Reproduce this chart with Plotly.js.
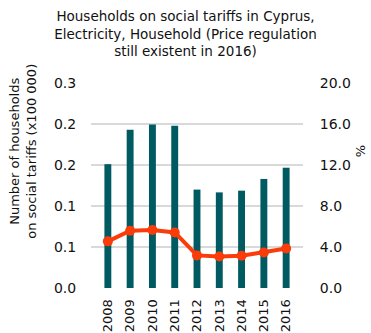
<!DOCTYPE html>
<html><head><meta charset="utf-8">
<script src="https://cdn.plot.ly/plotly-3.0.1.min.js"></script>
<style>html,body{margin:0;padding:0;background:#fff}#c{width:371px;height:333px}</style>
</head><body><div id="c"></div>
<script>
var years = ['2008','2009','2010','2011','2012','2013','2014','2015','2016'];
var households = [0.151, 0.193, 0.1995, 0.198, 0.120, 0.1166, 0.1187, 0.133, 0.1467];
var sharePct = [4.55, 5.59, 5.66, 5.42, 3.18, 3.08, 3.15, 3.47, 3.86];
var leftTicks = [0, 0.05, 0.10, 0.15, 0.20, 0.25];
var leftLabels = ['0.0','0.1','0.1','0.2','0.2','0.3'];
var rightTicks = [0, 4, 8, 12, 16, 20];
var rightLabels = ['0.0','4.0','8.0','12.0','16.0','20.0'];

var font = 'DejaVu Sans, sans-serif';
var data = [
  {type:'bar', x:years, y:households, marker:{color:'#005a62'}, yaxis:'y', hoverinfo:'none'},
  {type:'scatter', mode:'lines+markers', x:years, y:sharePct, yaxis:'y2',
   line:{color:'#fa3c0a', width:4}, marker:{color:'#fa3c0a', size:10}}
];
var layout = {
  width:371, height:333, showlegend:false,
  margin:{l:91, r:68, t:83, b:45},
  paper_bgcolor:'#fff', plot_bgcolor:'#fff',
  font:{family:font, size:14, color:'#111'},
  title:{text:'Households on social tariffs in Cyprus,<br>Electricity, Household (Price regulation<br>still existent in 2016)',
         x:0.5, xanchor:'center', y:0.937, yanchor:'top', font:{family:font, size:13.5, color:'#111'}},
  bargap:0.69,
  xaxis:{type:'category', tickangle:-90, tickfont:{size:13}, showgrid:false, ticks:'outside', ticklen:5, tickcolor:'rgba(0,0,0,0)', showline:false},
  yaxis:{range:[0,0.25], tickvals:leftTicks, ticktext:leftLabels, showgrid:true, gridcolor:'#d9d9d9', gridwidth:1.3,
         zeroline:false, ticks:'outside', ticklen:11, tickcolor:'rgba(0,0,0,0)', tickfont:{size:14}},
  yaxis2:{range:[0,20], overlaying:'y', side:'right', tickvals:rightTicks, ticktext:rightLabels, showgrid:false,
          zeroline:false, ticks:'outside', ticklen:13, tickcolor:'rgba(0,0,0,0)', tickfont:{size:14}},
  annotations:[
    {text:'Number of households<br>on social tariffs (x100 000)', textangle:-90, xref:'paper', yref:'paper',
     x:-0.322, y:0.668, xanchor:'center', yanchor:'middle', showarrow:false, font:{size:13}},
    {text:'%', textangle:-90, xref:'paper', yref:'paper', x:1.27, y:0.668, xanchor:'center', yanchor:'middle',
     showarrow:false, font:{size:13}}
  ]
};
Plotly.newPlot('c', data, layout, {displayModeBar:false, staticPlot:true});
</script></body></html>
